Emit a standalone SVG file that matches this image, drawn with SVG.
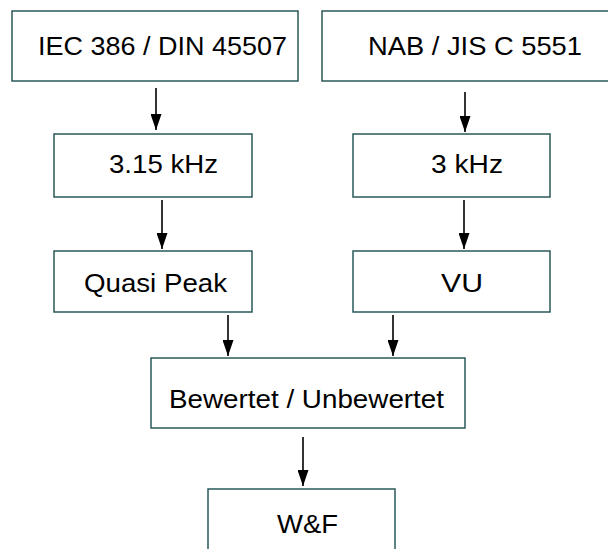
<svg xmlns="http://www.w3.org/2000/svg" width="608" height="549" viewBox="0 0 608 549">
<style>
.box{fill:#fff;stroke:#2a5a58;stroke-width:1.5}
.t{font-family:"Liberation Sans",Arial,sans-serif;font-size:25px;fill:#000}
.c{stroke:#000;stroke-width:1.6;fill:none}
</style>
<defs>
<marker id="ah" viewBox="0 0 16 11" refX="16" refY="5.5" markerUnits="userSpaceOnUse" markerWidth="16" markerHeight="11" orient="auto">
<path d="M0,0 L16,5.5 L0,11 Z" fill="#000"/>
</marker>
</defs>
<rect width="608" height="549" fill="#fff"/>
<g id="connectors">
<line class="c" x1="156" y1="88" x2="156" y2="130" marker-end="url(#ah)"/>
<line class="c" x1="162" y1="200" x2="162" y2="249" marker-end="url(#ah)"/>
<line class="c" x1="465" y1="92" x2="465" y2="132" marker-end="url(#ah)"/>
<line class="c" x1="464" y1="200" x2="464" y2="249" marker-end="url(#ah)"/>
<line class="c" x1="228" y1="315" x2="228" y2="356" marker-end="url(#ah)"/>
<line class="c" x1="393" y1="315" x2="393" y2="356" marker-end="url(#ah)"/>
<line class="c" x1="303" y1="437" x2="303" y2="486" marker-end="url(#ah)"/>
</g>
<g id="n1"><rect class="box" x="12" y="11" width="286" height="70"/><text class="t" x="38" y="55" textLength="249" lengthAdjust="spacingAndGlyphs">IEC 386 / DIN 45507</text></g>
<g id="n2"><rect class="box" x="322" y="11" width="290" height="70"/><text class="t" x="368" y="55" textLength="214" lengthAdjust="spacingAndGlyphs">NAB / JIS C 5551</text></g>
<g id="n3"><rect class="box" x="54" y="134" width="198" height="63"/><text class="t" x="109" y="173" textLength="109" lengthAdjust="spacingAndGlyphs">3.15 kHz</text></g>
<g id="n4"><rect class="box" x="353" y="134" width="197" height="63"/><text class="t" x="431" y="173" textLength="72" lengthAdjust="spacingAndGlyphs">3 kHz</text></g>
<g id="n5"><rect class="box" x="54" y="251" width="198" height="61"/><text class="t" x="84" y="292" textLength="143" lengthAdjust="spacingAndGlyphs">Quasi Peak</text></g>
<g id="n6"><rect class="box" x="353" y="251" width="197" height="61"/><text class="t" x="441" y="292" textLength="42" lengthAdjust="spacingAndGlyphs">VU</text></g>
<g id="n7"><rect class="box" x="151" y="358" width="314" height="70"/><text class="t" x="169" y="408" textLength="275" lengthAdjust="spacingAndGlyphs">Bewertet / Unbewertet</text></g>
<g id="n8"><rect class="box" x="208" y="489" width="187" height="70"/><text class="t" x="277" y="533" textLength="61" lengthAdjust="spacingAndGlyphs">W&amp;F</text></g>
</svg>
